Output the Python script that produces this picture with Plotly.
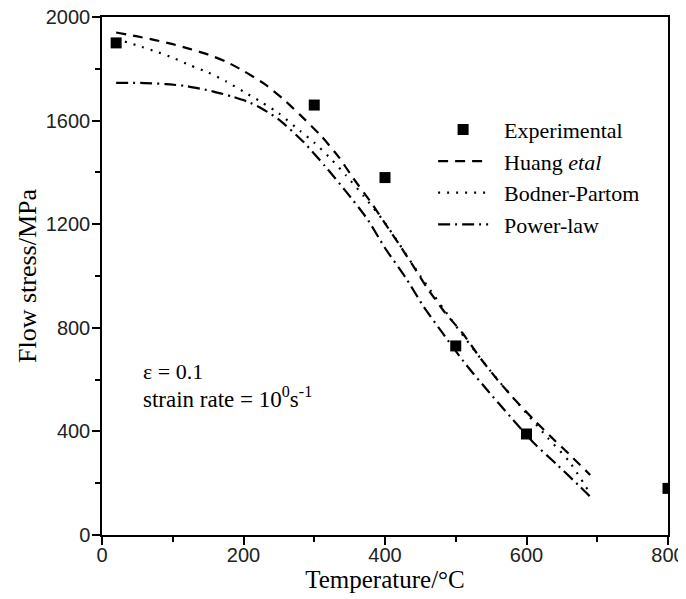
import plotly.graph_objects as go

# Experimental data
exp_T = [20, 300, 400, 500, 600, 800]
exp_s = [1900, 1660, 1380, 730, 390, 180]

# Huang et al model
huang_T = [20, 50, 75, 100, 125, 150, 175, 200, 230, 255, 280, 310, 335, 355, 380,
           400, 420, 440, 460, 485, 510, 535, 560, 585, 610, 635, 660, 690]
huang_s = [1940, 1925, 1911, 1895, 1876, 1855, 1828, 1792, 1741, 1686, 1622, 1540, 1458, 1378, 1285,
           1203, 1122, 1038, 952, 858, 778, 682, 596, 518, 446, 378, 313, 232]

# Bodner-Partom model
bodner_T = [20, 50, 80, 100, 125, 150, 175, 200, 225, 250, 280, 300, 320, 345, 370,
            400, 450, 500, 550, 600, 630, 660, 690]
bodner_s = [1915, 1890, 1863, 1843, 1813, 1786, 1752, 1712, 1672, 1628, 1560, 1515, 1462, 1388, 1308,
            1205, 1000, 808, 630, 470, 375, 285, 160]

# Power-law model
power_T = [20, 40, 60, 90, 120, 155, 185, 205, 225, 250, 285, 315, 345, 375, 400,
           430, 455, 480, 513, 545, 577, 610, 643, 676, 690]
power_s = [1746, 1746, 1745, 1741, 1733, 1714, 1692, 1674, 1648, 1604, 1517, 1425, 1326, 1220, 1108,
           990, 880, 785, 663, 558, 457, 356, 272, 186, 148]

x_ticks = [0, 200, 400, 600, 800]
y_ticks = [0, 400, 800, 1200, 1600, 2000]

serif = "Liberation Serif, Times New Roman, serif"
sans = "Liberation Sans, Arial, sans-serif"
pad = "\u2002"

fig = go.Figure()
fig.add_trace(go.Scatter(x=exp_T, y=exp_s, mode="markers", name=pad + "Experimental",
                         marker=dict(symbol="square", size=11, color="black"),
                         legendgroup="a"))
fig.add_trace(go.Scatter(x=huang_T, y=huang_s, mode="lines", name=pad + "Huang <i>etal</i>",
                         line=dict(color="black", width=2.2, dash="10px,7px", shape="spline", smoothing=0.6),
                         legendgroup="b"))
fig.add_trace(go.Scatter(x=bodner_T, y=bodner_s, mode="lines", name=pad + "Bodner-Partom",
                         line=dict(color="black", width=2.2, dash="2px,7px", shape="spline", smoothing=0.6),
                         legendgroup="c"))
fig.add_trace(go.Scatter(x=power_T, y=power_s, mode="lines", name=pad + "Power-law",
                         line=dict(color="black", width=2.2, dash="12px,5px,2px,5px", shape="spline", smoothing=0.6),
                         legendgroup="d"))

fig.add_annotation(x=55, y=630, xref="x", yref="y", text="ε = 0.1", showarrow=False,
                   xanchor="left", font=dict(family=serif, size=22, color="black"))
fig.add_annotation(x=55, y=530, xref="x", yref="y", text="strain rate = 10<sup>0</sup>s<sup>-1</sup>",
                   showarrow=False, xanchor="left", font=dict(family=serif, size=23, color="black"))

axis_common = dict(showline=True, linecolor="black", linewidth=1.5, mirror=True,
                   ticks="outside", ticklen=8, tickwidth=1.5, tickcolor="black",
                   showgrid=False, zeroline=False, automargin=False,
                   ticklabeloverflow="allow",
                   tickfont=dict(family=sans, size=20, color="#222"))

fig.update_xaxes(range=[0, 800], tickvals=x_ticks, ticklabelstandoff=-7,
                 minor=dict(dtick=100, tick0=0, ticks="outside", ticklen=5, tickwidth=1.5, tickcolor="black"),
                 title=dict(text="Temperature/°C", font=dict(family=serif, size=25, color="black"), standoff=0),
                 **axis_common)
fig.update_yaxes(range=[0, 2000], tickvals=y_ticks, ticklabelstandoff=-2,
                 minor=dict(dtick=200, tick0=0, ticks="outside", ticklen=5, tickwidth=1.5, tickcolor="black"),
                 title=dict(text="Flow stress/MPa", font=dict(family=serif, size=26, color="black"), standoff=2),
                 **axis_common)

# page body has an 8px margin, so the figure is shrunk/shifted to keep the plot area in place
fig.update_layout(
    width=678, height=591,
    margin=dict(l=94, r=18, t=9, b=64),
    plot_bgcolor="white", paper_bgcolor="white",
    legend=dict(x=0.585, y=0.823, xanchor="left", yanchor="top",
                font=dict(family=serif, size=22, color="black"),
                bgcolor="rgba(0,0,0,0)", tracegroupgap=0, traceorder="grouped",
                itemwidth=50),
)

fig.write_html("out.html")
